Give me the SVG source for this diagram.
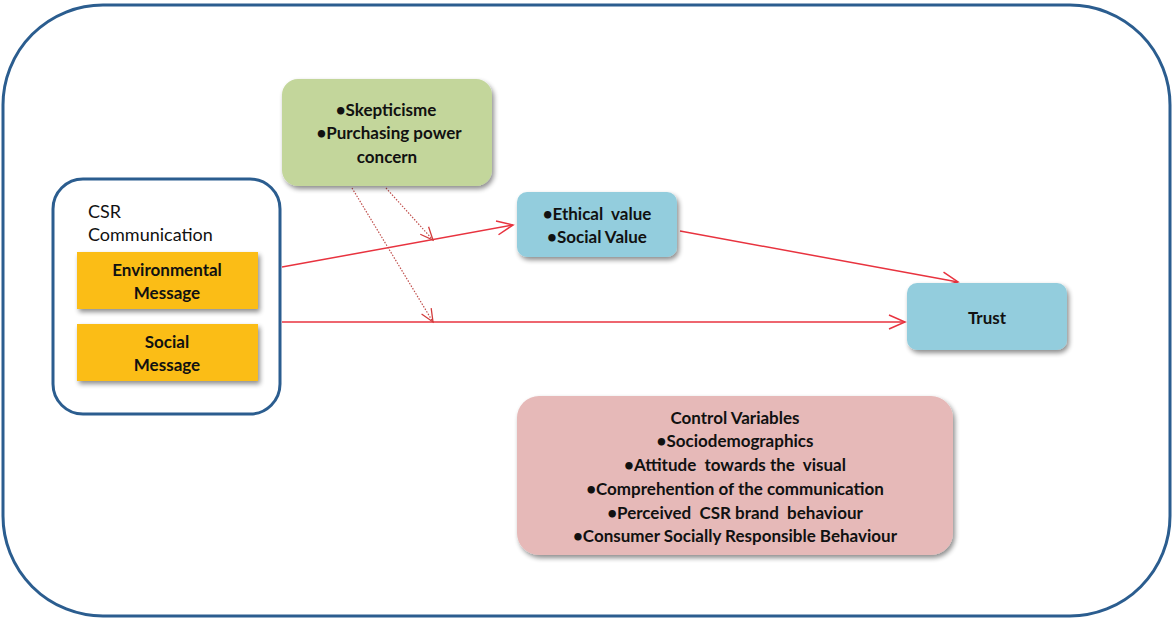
<svg xmlns="http://www.w3.org/2000/svg" width="1174" height="619" viewBox="0 0 1174 619">
<defs>
<filter id="sh" x="-10%" y="-10%" width="125%" height="130%">
<feGaussianBlur in="SourceAlpha" stdDeviation="2.5"/>
<feOffset dx="2" dy="3" result="b"/>
<feComponentTransfer><feFuncA type="linear" slope="0.45"/></feComponentTransfer>
<feMerge><feMergeNode/><feMergeNode in="SourceGraphic"/></feMerge>
</filter>
<marker id="ah" viewBox="0 0 20 20" refX="18" refY="10" markerWidth="20" markerHeight="20" markerUnits="userSpaceOnUse" orient="auto">
<path d="M2,3 L18,10 L2,17" fill="none" stroke="#e8333f" stroke-width="1.5"/>
</marker>
<marker id="ahd" viewBox="0 0 20 20" refX="18" refY="10" markerWidth="16" markerHeight="16" markerUnits="userSpaceOnUse" orient="auto">
<path d="M2,3 L18,10 L2,17" fill="none" stroke="#d23a3a" stroke-width="1.6"/>
</marker>
</defs>
<style>
text{font-family:"Lato","Open Sans","Liberation Sans",sans-serif;fill:#111;text-anchor:middle;white-space:pre}
.b{font-weight:bold;font-size:17px}
.n{font-size:18px;text-anchor:start}
.c{fill:none;stroke:#e8333f;stroke-width:1.5}
.d{fill:none;stroke:#c0504d;stroke-width:1.2;stroke-dasharray:1.5 1.5}
</style>
<rect id="frame" x="3" y="5" width="1167" height="611" rx="100" ry="100" fill="#fff" stroke="#2b5d8f" stroke-width="3"/>
<g id="connectors">
<line class="c" x1="282" y1="267" x2="513" y2="225" marker-end="url(#ah)"/>
<line class="c" x1="282" y1="322" x2="905" y2="322" marker-end="url(#ah)"/>
<line class="c" x1="680" y1="231" x2="958" y2="282" marker-end="url(#ah)"/>
<line class="d" x1="386" y1="188" x2="433" y2="240" marker-end="url(#ahd)"/>
<line class="d" x1="352" y1="188" x2="433" y2="322" marker-end="url(#ahd)"/>
</g>
<g id="moderators">
<rect x="282" y="79" width="210" height="107" rx="16" fill="#c3d69b" filter="url(#sh)"/>
<text class="b" x="386" y="116">•Skepticisme</text>
<text class="b" x="389" y="139">•Purchasing power</text>
<text class="b" x="387" y="163">concern</text>
</g>
<g id="csr">
<rect x="53" y="179" width="227" height="235" rx="30" fill="#fff" stroke="#2b5d8f" stroke-width="3"/>
<text class="n" x="88" y="218">CSR</text>
<text class="n" x="88" y="241">Communication</text>
</g>
<g id="env">
<rect x="77" y="252" width="181" height="57" fill="#fbbd14" filter="url(#sh)"/>
<text class="b" x="167" y="276">Environmental</text>
<text class="b" x="167" y="299">Message</text>
</g>
<g id="social">
<rect x="77" y="324" width="181" height="57" fill="#fbbd14" filter="url(#sh)"/>
<text class="b" x="167" y="348">Social</text>
<text class="b" x="167" y="371">Message</text>
</g>
<g id="values">
<rect x="517" y="192" width="160" height="65" rx="10" fill="#93cddd" filter="url(#sh)"/>
<text class="b" x="597" y="220">•Ethical  value</text>
<text class="b" x="597" y="243">•Social Value</text>
</g>
<g id="trust">
<rect x="907" y="283" width="160" height="67" rx="10" fill="#93cddd" filter="url(#sh)"/>
<text class="b" x="987" y="324">Trust</text>
</g>
<g id="control">
<rect x="517" y="396" width="436" height="159" rx="22" fill="#e6b9b8" filter="url(#sh)"/>
<text class="b" x="735" y="424">Control Variables</text>
<text class="b" x="735" y="447">•Sociodemographics</text>
<text class="b" x="735" y="471">•Attitude  towards the  visual</text>
<text class="b" x="735" y="495">•Comprehention of the communication</text>
<text class="b" x="735" y="519">•Perceived  CSR brand  behaviour</text>
<text class="b" x="735" y="542">•Consumer Socially Responsible Behaviour</text>
</g>
</svg>
